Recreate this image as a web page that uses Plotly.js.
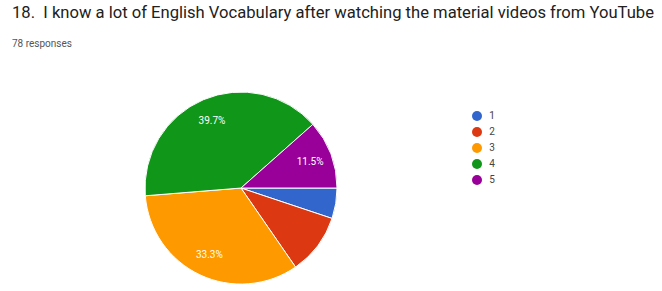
<!DOCTYPE html>
<html><head><meta charset="utf-8">
<script src="https://cdn.plot.ly/plotly-3.0.1.min.js"></script>
<style>html,body{margin:0;padding:0;background:#fff;}#chart{width:662px;height:291px;}</style>
</head><body><div id="chart"></div>
<script>
const categories = ['1', '2', '3', '4', '5'];
const counts = [4, 8, 26, 31, 9];
const sliceLabels = ['', '', '33.3%', '39.7%', '11.5%'];
const colors = ['#3366cc', '#dc3912', '#ff9900', '#109618', '#990099'];
const titleText = '18.  I know a lot of English Vocabulary after watching the material videos from YouTube';
const subtitleText = '78 responses';

const pieDomain = {x: [0.2190, 0.5091], y: [0.0206, 0.687]};
const font = 'Roboto, Arial, sans-serif';

const traces = [
  {
    type: 'pie', labels: categories, values: counts,
    textinfo: 'none', marker: {colors: colors, line: {color: '#ffffff', width: 1}},
    sort: false, direction: 'clockwise', rotation: 90,
    showlegend: false, hoverinfo: 'none', domain: pieDomain
  },
  {
    type: 'pie', labels: categories, values: counts, text: sliceLabels,
    textinfo: 'text', textposition: 'inside', insidetextorientation: 'horizontal',
    insidetextfont: {color: '#ffffff', size: 10, family: font},
    hole: 0.54,
    marker: {colors: categories.map(() => 'rgba(0,0,0,0)'), line: {width: 0}},
    sort: false, direction: 'clockwise', rotation: 90,
    showlegend: false, hoverinfo: 'none', domain: pieDomain
  },
  {
    type: 'scatter', mode: 'markers+text',
    x: categories.map(() => 0), y: categories,
    text: categories.map(c => '\u00a0\u00a0' + c),
    textposition: 'middle right',
    textfont: {size: 10, color: '#444', family: font},
    marker: {color: colors, size: 10, symbol: 'circle'},
    cliponaxis: false, showlegend: false, hoverinfo: 'none'
  }
];

const layout = {
  width: 662, height: 291,
  margin: {l: 0, r: 0, t: 0, b: 0},
  paper_bgcolor: '#ffffff', plot_bgcolor: '#ffffff',
  showlegend: false,
  xaxis: {visible: false, domain: [477/662, 1], range: [0, 1], fixedrange: true},
  yaxis: {visible: false, type: 'category', categoryarray: categories,
          domain: [(291-188)/291, (291-108)/291], range: [4.5, -0.5], fixedrange: true},
  annotations: [
    {text: titleText, xref: 'paper', yref: 'paper', x: 10/662, y: 1 - 1/291, xanchor: 'left', yanchor: 'top',
     showarrow: false, font: {size: 16.6, color: '#212121', family: font}},
    {text: subtitleText, xref: 'paper', yref: 'paper', x: 10/662, y: 1 - 36/291, xanchor: 'left', yanchor: 'top',
     showarrow: false, font: {size: 10, color: '#555', family: font}}
  ]
};
Plotly.newPlot('chart', traces, layout, {staticPlot: true, displayModeBar: false});
</script></body></html>
